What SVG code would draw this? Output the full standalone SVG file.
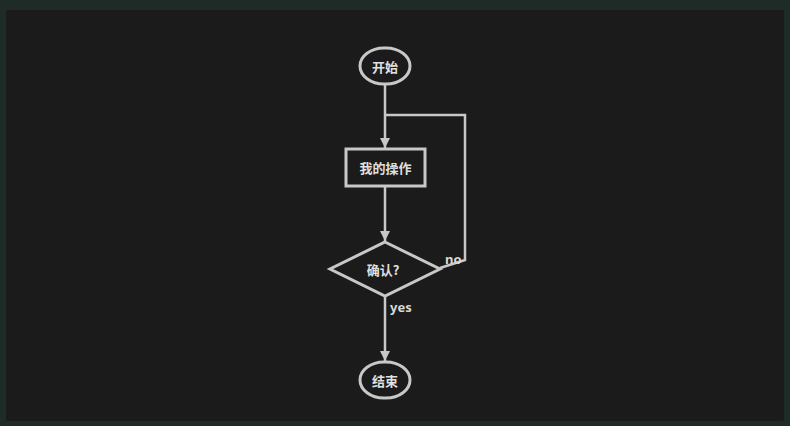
<svg xmlns="http://www.w3.org/2000/svg" width="790" height="426" viewBox="0 0 790 426">
<style>
.n{fill:#1b1b1b;stroke:#c8c8c8;stroke-width:3}
.e{fill:none;stroke:#c8c8c8;stroke-width:2.5}
.t{font-family:"Noto Sans CJK SC","Noto Sans",sans-serif;font-weight:bold;font-size:13px;fill:#e0e0e0;text-anchor:middle;dominant-baseline:central}
.l{font-family:"Noto Sans","Noto Sans CJK SC",sans-serif;font-weight:bold;font-size:13px;fill:#d8d8d8}
</style>
<defs>
<marker id="a" viewBox="0 0 10 10" refX="10" refY="5" markerWidth="4" markerHeight="4" orient="auto" markerUnits="strokeWidth">
<path d="M0,0L10,5L0,10z" fill="#c8c8c8"/>
</marker>
</defs>
<rect width="790" height="426" fill="#1f2b26"/>
<rect x="6" y="10" width="778" height="411" rx="2" fill="#1b1b1b"/>
<g id="edges">
<path class="e" d="M385,85V148" marker-end="url(#a)"/>
<path class="e" d="M385,187V241" marker-end="url(#a)"/>
<path class="e" d="M440,268L465,260V115H385"/>
<path class="e" d="M385,296V361" marker-end="url(#a)"/>
<text class="l" x="445" y="264">no</text>
<text class="l" x="390" y="312">yes</text>
</g>
<g id="start">
<rect class="n" x="360" y="48" width="50" height="36" rx="24" ry="18"/>
<text class="t" x="385" y="66">开始</text>
</g>
<g id="op">
<rect class="n" x="346" y="149" width="79" height="37"/>
<text class="t" x="385.5" y="167.5">我的操作</text>
</g>
<g id="cond">
<polygon class="n" points="385,242 440,269 385,296 330,269"/>
<text class="t" x="383" y="269">确认?</text>
</g>
<g id="end">
<rect class="n" x="360" y="362" width="50" height="36" rx="24" ry="18"/>
<text class="t" x="385" y="380">结束</text>
</g>
</svg>
